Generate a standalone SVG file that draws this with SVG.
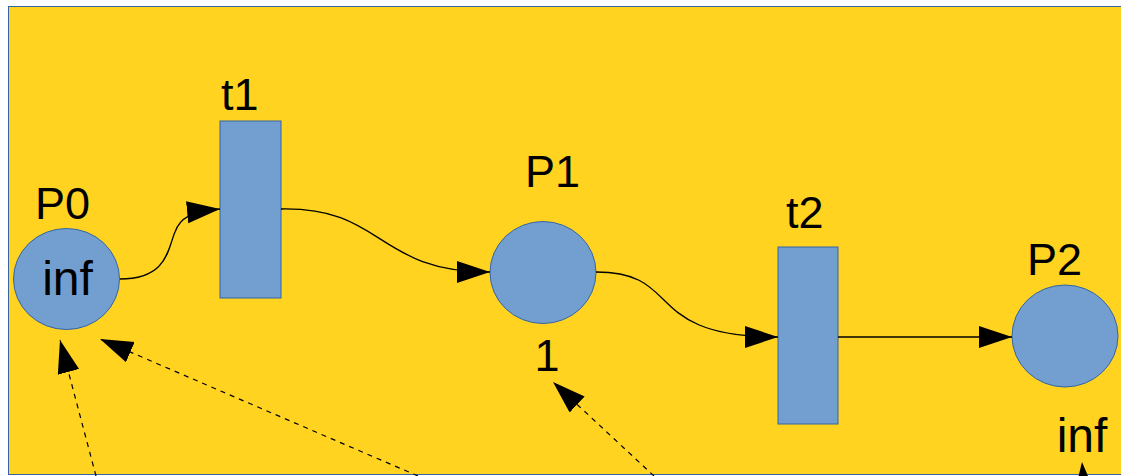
<svg xmlns="http://www.w3.org/2000/svg" width="1121" height="476" viewBox="0 0 1121 476">
<style>
.bg{fill:#ffd320;stroke:#3465a4;stroke-width:1}
.place,.trans{fill:#729fcf;stroke:#3465a4;stroke-width:1}
.lbl{font-family:"Liberation Sans",Arial,sans-serif;font-size:45px;fill:#000}
.tok{font-size:48px}
.arc{fill:none;stroke:#000;stroke-width:1.3}
.dash{fill:none;stroke:#000;stroke-width:1.2;stroke-dasharray:5 5}
</style>
<defs>
<marker id="ah" markerUnits="userSpaceOnUse" markerWidth="36" markerHeight="24" refX="33" refY="11" orient="auto">
<path d="M0,0 L33,11 L0,22 z" fill="#000"/>
</marker>
</defs>
<rect width="1121" height="476" fill="#fff"/>
<rect class="bg" x="8.5" y="6.5" width="1125" height="468"/>
<g id="P0">
<ellipse class="place" cx="66.5" cy="279" rx="53" ry="50.5"/>
<text class="lbl" x="35" y="219">P0</text>
<text class="lbl tok" x="67.5" y="295" text-anchor="middle">inf</text>
</g>
<g id="t1">
<rect class="trans" x="220" y="121" width="61" height="177"/>
<text class="lbl" x="221" y="110">t1</text>
</g>
<g id="P1">
<ellipse class="place" cx="543" cy="272.5" rx="53" ry="51"/>
<text class="lbl" x="525" y="187">P1</text>
<text class="lbl" x="547" y="371" text-anchor="middle">1</text>
</g>
<g id="t2">
<rect class="trans" x="778" y="247" width="60" height="177"/>
<text class="lbl" x="786" y="228">t2</text>
</g>
<g id="P2">
<ellipse class="place" cx="1065" cy="336" rx="53" ry="51"/>
<text class="lbl" x="1027" y="275">P2</text>
<text class="lbl tok" x="1082" y="452" text-anchor="middle">inf</text>
</g>
<g id="connectors">
<path class="arc" d="M120,279 C168,279 168,248 175,232 C180,218 190,212 220,209" marker-end="url(#ah)"/>
<path class="arc" d="M281,209 C385,207 375,272 490,272" marker-end="url(#ah)"/>
<path class="arc" d="M596,272 C685,272 640,337 778,337" marker-end="url(#ah)"/>
<path class="arc" d="M838,337 L1012,337" marker-end="url(#ah)"/>
<path class="dash" d="M96,476 L60,340" marker-end="url(#ah)"/>
<path class="dash" d="M418,476 L100,339" marker-end="url(#ah)"/>
<path class="dash" d="M654,476 L553,382" marker-end="url(#ah)"/>
<path class="dash" d="M1086,510 L1082,462" marker-end="url(#ah)"/>
</g>
</svg>
